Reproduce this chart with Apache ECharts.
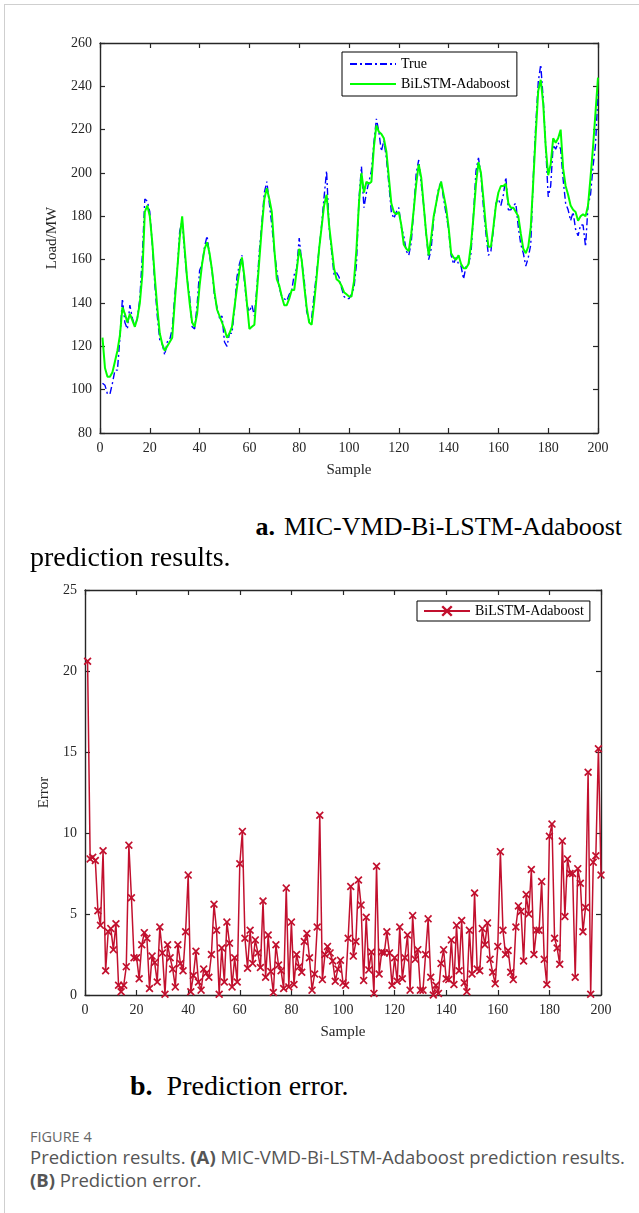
<!DOCTYPE html>
<html>
<head>
<meta charset="utf-8">
<script src="https://cdn.jsdelivr.net/npm/echarts@6/dist/echarts.min.js"></script>
<style>
  html, body { margin:0; padding:0; background:#fff; }
  body { width:639px; height:1213px; position:relative; overflow:hidden; }
  #frame { position:absolute; left:4px; top:4px; width:700px; height:1300px; border-top:1px solid #cfcfcf; border-left:1px solid #cfcfcf; }
  #c1 { position:absolute; left:0; top:0; width:639px; height:500px; }
  #c2 { position:absolute; left:0; top:570px; width:639px; height:490px; }
  .cap { position:absolute; font-family:"Liberation Serif","Times New Roman",serif; font-size:28px; line-height:30px; color:#000; white-space:nowrap; }
  .fig { position:absolute; font-family:"Open Sans","Noto Sans",sans-serif; color:#555; white-space:nowrap; }
</style>
</head>
<body>
<div id="frame"></div>
<div id="c1"></div>
<div id="c2"></div>
<div class="cap" style="right:17px; top:512px; font-size:26px;"><b style="margin-right:9px;">a.</b>MIC-VMD-Bi-LSTM-Adaboost</div>
<div class="cap" style="left:30px; top:542px;">prediction results.</div>
<div class="cap" style="left:130px; top:1071px;"><b>b.</b>&nbsp; Prediction error.</div>
<div class="fig" style="left:30px; top:1127px; font-size:14.5px; line-height:20px; color:#666;">FIGURE 4</div>
<div class="fig" style="left:30px; top:1145px; font-size:18.5px; line-height:23px;">Prediction results. <b>(A)</b> MIC-VMD-Bi-LSTM-Adaboost prediction results.<br><b>(B)</b> Prediction error.</div>
<script>
// ---------- data ----------
const xTicks = [0, 20, 40, 60, 80, 100, 120, 140, 160, 180, 200];
const loadTicks = [80, 100, 120, 140, 160, 180, 200, 220, 240, 260];
const errTicks = [0, 5, 10, 15, 20, 25];

const trueLoad = [
  103,102,98,98,103,109,109,124,142,131,
  128,139,133,129,133,142,162,188,187,182,
  167,149,134,123,121,116,122,123,128,143,
  155,173,178,163,151,143,129,128,139,155,
  158,166,171,162,155,143,138,133,134,122,
  120,126,126,137,152,158,162,150,139,136,
  139,134,147,164,177,191,196,186,176,164,
  155,147,143,142,141,144,146,153,156,170,
  159,151,136,132,133,144,154,165,176,189,
  201,175,164,153,154,152,147,143,142,142,
  144,147,158,188,203,184,191,196,201,214,
  225,219,210,215,207,195,182,179,182,184,
  175,171,164,162,168,183,200,206,195,185,
  172,160,165,179,186,193,196,188,181,174,
  162,158,161,158,157,151,157,158,163,181,
  201,207,199,184,172,162,164,174,186,188,
  185,190,198,183,183,185,186,175,167,163,
  157,161,167,198,222,242,250,234,212,189,
  194,213,211,214,211,197,186,183,178,182,
  174,171,176,176,166,185,190,203,213,237
];

const predLoad = [
  124,110,106,106,108,113,118,125,138,135,
  131,135,132,129,133,140,153,182,185,180,
  168,152,138,126,121,118,120,122,124,140,
  155,170,180,165,151,140,131,129,135,148,
  158,165,168,163,155,145,137,134,131,128,
  124,126,129,138,147,155,161,152,140,128,
  129,130,145,160,175,188,193,188,182,165,
  151,148,143,139,139,142,146,146,155,165,
  160,148,138,131,130,140,152,165,175,185,
  190,176,166,156,151,150,148,145,144,143,
  143,150,165,186,200,191,196,195,196,212,
  222,219,218,216,210,198,186,182,181,182,
  176,167,165,164,172,183,195,204,198,185,
  172,162,170,180,186,192,196,190,184,175,
  163,161,160,162,158,156,156,158,167,180,
  195,205,200,188,175,166,166,175,185,191,
  194,194,195,186,184,184,182,180,172,165,
  163,166,175,196,218,238,243,232,212,199,
  204,216,214,216,220,202,194,190,185,183,
  182,178,180,181,180,185,198,212,228,244
];

const errorVals = [
  20.6,8.4,8.5,8.3,5.2,4.3,8.9,1.5,3.9,4.1,
  2.8,4.4,0.6,0.2,0.6,1.75,9.25,6.0,2.3,2.3,
  1.0,3.1,3.85,3.5,0.4,2.4,2.0,0.8,4.2,2.6,
  0.05,3.1,2.3,1.6,0.5,3.1,1.95,1.5,3.9,7.4,
  0.2,1.2,2.7,0.8,0.3,1.6,1.35,1.1,2.5,5.6,
  4.0,0.05,2.9,0.8,4.5,3.2,0.5,2.3,0.8,8.1,
  10.1,3.5,1.65,4.0,1.95,3.4,2.6,1.7,5.8,1.1,
  3.7,1.45,0.15,3.1,1.85,1.5,0.4,6.6,0.5,4.5,
  0.65,2.5,1.75,1.4,3.3,3.8,2.3,0.3,1.3,4.2,
  11.1,0.95,2.5,3.0,2.6,2.1,0.85,1.6,2.15,0.75,
  0.6,3.5,6.7,2.4,3.3,7.1,5.55,0.9,4.8,1.55,
  2.65,0.1,7.95,1.3,2.65,2.6,3.9,2.6,0.6,2.3,
  0.85,4.2,1.0,2.3,3.7,0.3,4.9,2.2,2.8,0.3,
  0.3,2.5,4.7,1.1,0.0,0.6,0.1,1.95,2.8,1.0,
  0.95,3.4,0.65,4.3,1.5,4.6,0.75,0.2,4.0,1.3,
  6.3,1.6,1.5,4.1,3.1,4.45,2.2,1.4,0.7,3.0,
  8.85,4.0,2.5,2.75,1.4,0.95,4.2,5.5,5.15,2.1,
  6.2,5.0,7.75,2.5,4.0,4.0,7.0,2.2,0.65,9.8,
  10.55,3.5,2.9,1.9,9.5,4.85,8.4,7.5,7.5,1.1,
  7.8,6.9,3.9,5.4,13.75,0.05,8.2,8.6,15.2,7.4
];

// ---------- helpers ----------
const serif = '"Liberation Serif","Times New Roman",serif';
const axisColor = '#262626';
const toPairs = arr => arr.map((v, i) => [i + 1, v]);

function boxAxes(ticks, showLabels, position, extra) {
  return Object.assign({
    type: 'value',
    position: position,
    min: ticks[0],
    max: ticks[ticks.length - 1],
    interval: ticks[1] - ticks[0],
    axisLine: { show: true, onZero: false, lineStyle: { color: axisColor, width: 1.4 } },
    axisTick: { show: true, inside: true, length: 5, lineStyle: { color: axisColor, width: 1.2 } },
    axisLabel: { show: showLabels, color: axisColor, fontFamily: serif, fontSize: 14, margin: 8 },
    splitLine: { show: false }
  }, extra || {});
}

const xSymbol = 'path://M1.5,0L5,3.5L8.5,0L10,1.5L6.5,5L10,8.5L8.5,10L5,6.5L1.5,10L0,8.5L3.5,5L0,1.5Z';

// ---------- chart A ----------
const c1 = echarts.init(document.getElementById('c1'), null, { renderer: 'canvas' });
c1.setOption({
  animation: false,
  backgroundColor: 'transparent',
  grid: { left: 100, top: 43, width: 498, height: 390 },
  xAxis: [
    boxAxes(xTicks, true, 'bottom', { name: 'Sample', nameLocation: 'middle', nameGap: 30,
      nameTextStyle: { color: axisColor, fontFamily: serif, fontSize: 15 } }),
    boxAxes(xTicks, false, 'top')
  ],
  yAxis: [
    boxAxes(loadTicks, true, 'left', { name: 'Load/MW', nameLocation: 'middle', nameGap: 40, nameRotate: 90,
      nameTextStyle: { color: axisColor, fontFamily: serif, fontSize: 15 } }),
    boxAxes(loadTicks, false, 'right')
  ],
  legend: {
    left: 342, top: 52, orient: 'vertical',
    padding: [5, 7, 5, 7], itemGap: 6, itemWidth: 46, itemHeight: 14,
    borderColor: '#000', borderWidth: 1, backgroundColor: '#fff',
    itemStyle: { opacity: 0 },
    textStyle: { fontFamily: serif, fontSize: 14, color: '#000' },
    data: ['True', 'BiLSTM-Adaboost']
  },
  series: [
    { name: 'True', type: 'line', xAxisIndex: 0, yAxisIndex: 0, data: toPairs(trueLoad),
      symbol: 'none', lineStyle: { color: '#0000FF', width: 1.4, type: [7, 3, 2, 3] },
      itemStyle: { color: '#0000FF' } },
    { name: 'BiLSTM-Adaboost', type: 'line', xAxisIndex: 0, yAxisIndex: 0, data: toPairs(predLoad),
      symbol: 'none', lineStyle: { color: '#00FF00', width: 2 }, itemStyle: { color: '#00FF00' } }
  ]
});

// ---------- chart B ----------
const c2 = echarts.init(document.getElementById('c2'), null, { renderer: 'canvas' });
c2.setOption({
  animation: false,
  backgroundColor: 'transparent',
  grid: { left: 85, top: 20, width: 516, height: 405 },
  xAxis: [
    boxAxes(xTicks, true, 'bottom', { name: 'Sample', nameLocation: 'middle', nameGap: 30,
      nameTextStyle: { color: axisColor, fontFamily: serif, fontSize: 15 } }),
    boxAxes(xTicks, false, 'top')
  ],
  yAxis: [
    boxAxes(errTicks, true, 'left', { name: 'Error', nameLocation: 'middle', nameGap: 33, nameRotate: 90,
      nameTextStyle: { color: axisColor, fontFamily: serif, fontSize: 15 } }),
    boxAxes(errTicks, false, 'right')
  ],
  legend: {
    left: 417, top: 31, orient: 'vertical',
    padding: [3, 6, 3, 6], itemWidth: 46, itemHeight: 14,
    borderColor: '#000', borderWidth: 1, backgroundColor: '#fff',
    textStyle: { fontFamily: serif, fontSize: 14, color: '#000' },
    data: ['BiLSTM-Adaboost']
  },
  series: [
    { name: 'BiLSTM-Adaboost', type: 'line', data: toPairs(errorVals),
      symbol: xSymbol, symbolSize: 8, showSymbol: true,
      lineStyle: { color: '#C2102E', width: 1.5 }, itemStyle: { color: '#C2102E' } }
  ]
});
</script>
</body>
</html>
